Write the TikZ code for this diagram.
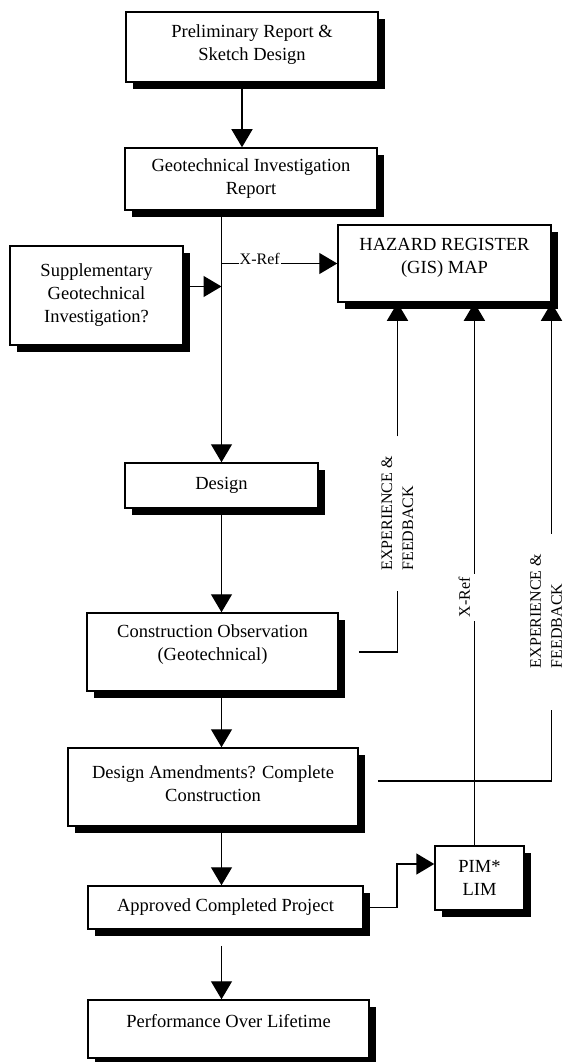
\documentclass[tikz,border=0pt]{standalone}
\usepackage{fontspec}
\setmainfont{Liberation Serif}
\usetikzlibrary{calc,arrows.meta,shadows}

\begin{document}
\begin{tikzpicture}[x=1pt,y=-1pt,
    box/.style={draw,fill=white,line width=1.5pt,align=center,inner sep=2pt,
      font=\fontsize{18.5}{23}\selectfont,
      drop shadow={shadow xshift=7pt,shadow yshift=-7pt,opacity=1,fill=black}},
    arr/.style={line width=1.3pt,-{Triangle[length=18pt,width=21pt]}},
    feed/.style={line width=1.7pt},
    lbl/.style={font=\fontsize{16}{21}\selectfont,inner sep=0pt}]
  \path[use as bounding box,fill=white] (0,0) rectangle (565,1062);
  % boxes, main column
  \node[box,minimum width=252pt,minimum height=70pt,text depth=9pt] (PR) at (252,47)
    {Preliminary Report \&\\Sketch Design};
  \node[box,minimum width=252pt,minimum height=62pt] (GI) at (251,179)
    {Geotechnical Investigation\\Report};
  \node[box,minimum width=173pt,minimum height=99pt] (SU) at (96.5,295.5)
    {Supplementary\\Geotechnical\\Investigation?};
  \node[box,minimum width=213pt,minimum height=77pt,text depth=15pt] (HZ) at (444.5,263.5)
    {HAZARD REGISTER\\(GIS) MAP};
  \node[box,minimum width=193pt,minimum height=45pt] (DE) at (221.5,485.5) {Design};
  \node[box,minimum width=251pt,minimum height=78pt,text depth=18pt] (CO) at (212.5,652)
    {Construction Observation\\(Geotechnical)};
  \node[box,minimum width=290pt,minimum height=78pt,text depth=6pt] (DA) at (213,787)
    {Design Amendments? Complete\\Construction};
  \node[box,minimum width=275pt,minimum height=43pt] (AP) at (225.5,907.5)
    {Approved Completed Project};
  \node[box,minimum width=89pt,minimum height=64pt] (PIM) at (479.5,878) {PIM*\\LIM};
  \node[box,minimum width=281pt,minimum height=58pt,text depth=16pt] (PF) at (228.5,1029)
    {Performance Over Lifetime};
  % rotated labels on the feedback lines
  \node[lbl,rotate=90,align=left,outer xsep=20pt] (L1) at (397.5,513.5) {EXPERIENCE \&\\FEEDBACK};
  \node[lbl,rotate=90,outer xsep=4pt] (L2) at (464.4,597.5) {X-Ref};
  \node[lbl,rotate=90,align=left,outer xsep=20pt] (L3) at (546,611) {EXPERIENCE \&\\FEEDBACK};
  \coordinate (J) at ($(SU.east)+(0,-9)$);

  \draw[arr] ([xshift=-10pt]PR.south) -- ([xshift=-10pt]PR.south |- GI.north);
  \draw[arr] (GI.south -| DE.north) -- (DE.north);
  \draw[arr] (J) -- (J -| DE.north);
  \draw[arr] (HZ.west -| DE.north) -- node[lbl,anchor=base,fill=white,inner sep=1pt,pos=0.33,yshift=-1pt] (XR) {X-Ref} (HZ.west);
  \draw[arr] (DE.south) -- (DE.south |- CO.north);
  \draw[arr] (CO.south -| DE.south) -- (DE.south |- DA.north);
  \draw[arr] (DA.south -| DE.south) -- (DE.south |- AP.north);
  \draw[arr,shorten <=16pt] (AP.south -| DE.south) -- (DE.south |- PF.north);
  \draw[arr,line width=1.7pt] (AP.east) -- ++(33,0) |- ([yshift=14pt]PIM.west);

  \draw[arr] (L1.east) -- (L1.east |- HZ.south);
  \draw[arr] ([xshift=10pt]L2.east) -- ([xshift=10pt]L2.east |- HZ.south);
  \draw[arr] ([xshift=5.5pt]L3.east) -- ([xshift=5.5pt]L3.east |- HZ.south);
  \draw[feed,shorten <=20pt] (CO.east) -| (L1.west);
  \draw[line width=1.3pt] ([xshift=10pt]L2.west) -- ([xshift=10pt]L2.west |- PIM.north);
  \draw[feed,shorten <=19pt,shorten >=22pt] ([yshift=6pt]DA.east) -| ([xshift=5.5pt]L3.west);
\end{tikzpicture}
\end{document}
